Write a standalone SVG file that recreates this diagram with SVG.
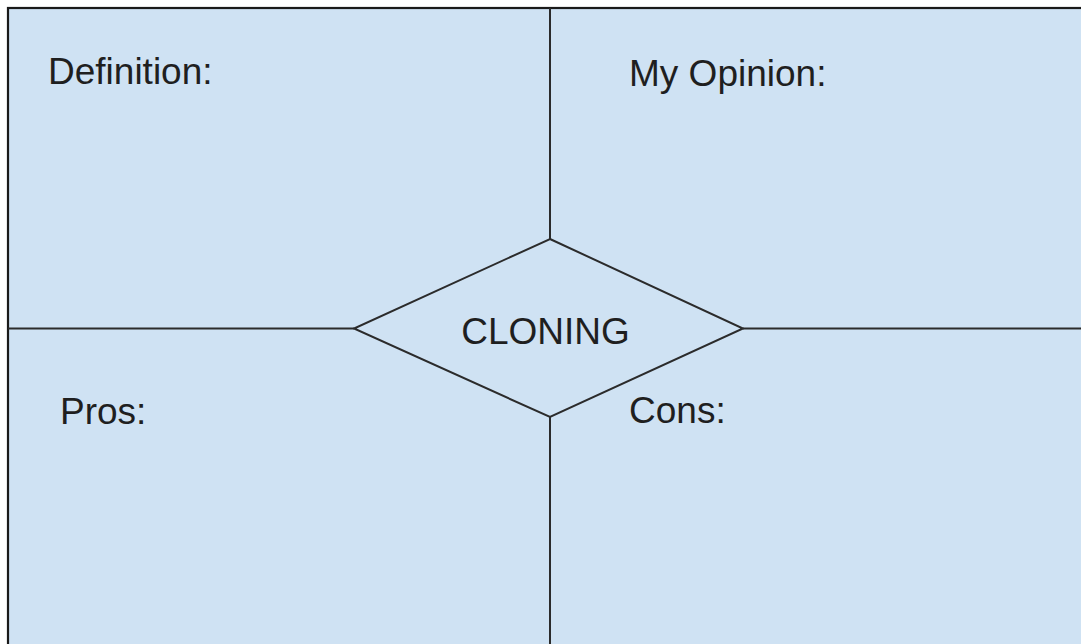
<svg xmlns="http://www.w3.org/2000/svg" width="1081" height="644" viewBox="0 0 1081 644">
<style>
.lbl{font-family:"Liberation Sans",Arial,sans-serif;font-size:37px;fill:#1f1f1f}
.ln{stroke:#2b2b2b;stroke-width:2;fill:none}
.shape{fill:#cfe2f3;stroke:#2b2b2b;stroke-width:2}
</style>
<rect x="0" y="0" width="1081" height="644" fill="#ffffff"/>
<g id="frame">
<rect x="8" y="8" width="1100" height="700" fill="#cfe2f3" stroke="#1a1a1a" stroke-width="2.2"/>
</g>
<g id="connectors">
<line class="ln" x1="550" y1="8" x2="550" y2="239"/>
<line class="ln" x1="550" y1="417" x2="550" y2="644"/>
<line class="ln" x1="8" y1="328.5" x2="354" y2="328.5"/>
<line class="ln" x1="743" y1="328.5" x2="1081" y2="328.5"/>
</g>
<g id="definition"><text class="lbl" x="48" y="84">Definition:</text></g>
<g id="opinion"><text class="lbl" x="629" y="86">My Opinion:</text></g>
<g id="pros"><text class="lbl" x="60" y="424">Pros:</text></g>
<g id="cons"><text class="lbl" x="629" y="423">Cons:</text></g>
<g id="cloning">
<polygon class="shape" points="550,239 743,328.5 550,417 354,328.5"/>
<text class="lbl" x="545.5" y="344" text-anchor="middle">CLONING</text>
</g>
</svg>
